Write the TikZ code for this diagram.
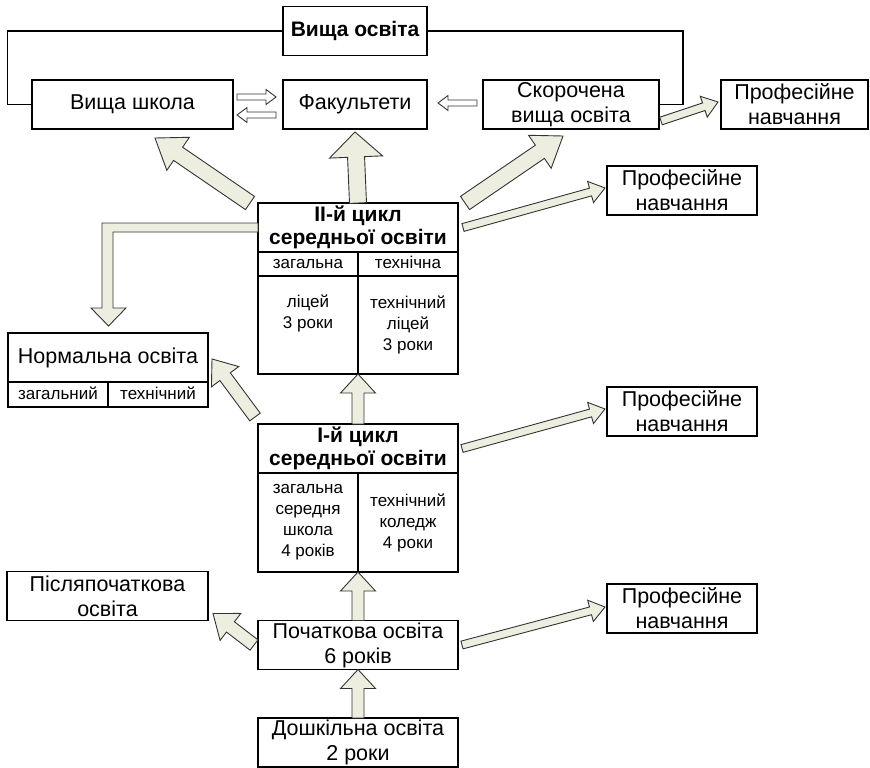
\documentclass[tikz,border=0pt]{standalone}
\usepackage{fontspec}
\setmainfont{Liberation Sans}
\usetikzlibrary{calc}
\definecolor{arrfill}{RGB}{238,238,224}

% block arrow: style, tail, tip, shaft half width, head half width, head length
\newcommand{\blkarr}[6]{%
  \coordinate (ba-t) at #2;
  \coordinate (ba-h) at #3;
  \coordinate (ba-b) at ($(ba-h)!#6!(ba-t)$);
  \draw[#1] ($(ba-t)!#4!90:(ba-h)$) -- ($(ba-b)!#4!90:(ba-h)$) -- ($(ba-b)!#5!90:(ba-h)$)
    -- (ba-h) -- ($(ba-b)!#5!-90:(ba-h)$) -- ($(ba-b)!#4!-90:(ba-h)$) -- ($(ba-t)!#4!-90:(ba-h)$) -- cycle;
}

\begin{document}
\begin{tikzpicture}[x=1pt, y=-1pt,
    box/.style={draw, line width=1.1pt, outer sep=0pt, inner sep=1pt, minimum height=49pt, align=center, font=\fontsize{21.5}{25}\selectfont},
    hdr/.style={box, font=\bfseries\fontsize{21}{23}\selectfont},
    cell/.style={box, font=\fontsize{17}{21}\selectfont},
    rowcell/.style={cell, minimum width=100pt, text height=12.5pt, text depth=3.5pt},
    arr/.style={draw=black!80, line width=0.9pt, fill=arrfill},
    openarr/.style={draw=black!80, line width=0.9pt, fill=white}]
        \useasboundingbox (0,0) rectangle (870,768);

        \node[hdr, minimum width=144pt] (vo) at (355,31) {Вища освіта};
        \node[box, minimum width=201pt] (vsh) at (132.5,104.5) {Вища школа};
        \node[box, minimum width=144pt] (fak) at (355,104.5) {Факультети};
        \node[box, minimum width=176pt] (skor) at (571,104.5) {Скорочена\\вища освіта};
        \node[box, minimum width=147pt] (prof1) at (794.5,104.5) {Професійне\\навчання};
        \node[box, minimum width=150pt] (prof2) at (682,190.5) {Професійне\\навчання};

        \node[hdr, minimum width=200pt] (II) at (358,227.5) {II-й цикл\\середньої освіти};
        \node[rowcell, minimum height=24pt, anchor=north west] (IIa) at (II.south west) {загальна};
        \node[rowcell, minimum height=24pt, anchor=north east] (IIb) at (II.south east) {технічна};
        \node[cell, minimum width=100pt, minimum height=98pt, anchor=north west] (IIc) at (IIa.south west) {ліцей\\3 роки\\\strut};
        \node[cell, minimum width=100pt, minimum height=98pt, anchor=north east] (IId) at (IIb.south east) {технічний\\ліцей\\3 роки};

        \node[box, minimum width=200pt] (norm) at (108,357.5) {Нормальна освіта};
        \node[rowcell, minimum height=25pt, anchor=north west] (norma) at (norm.south west) {загальний};
        \node[rowcell, minimum height=25pt, anchor=north east] (normb) at (norm.south east) {технічний};
        \node[box, minimum width=150pt] (prof3) at (682,411.5) {Професійне\\навчання};

        \node[hdr, minimum width=200pt] (I) at (358,448.5) {I-й цикл\\середньої освіти};
        \node[cell, minimum width=100pt, minimum height=99pt, anchor=north west] (Ia) at (I.south west) {загальна\\середня\\школа\\4 років};
        \node[cell, minimum width=100pt, minimum height=99pt, anchor=north east] (Ib) at (I.south east) {технічний\\коледж\\4 роки};

        \node[box, minimum width=201pt] (pisl) at (107.5,596) {Післяпочаткова\\освіта};
        \node[box, minimum width=200pt] (poch) at (358,645) {Початкова освіта\\6 років};
        \node[box, minimum width=150pt] (prof4) at (682,608.5) {Професійне\\навчання};
        \node[box, minimum width=200pt] (dosh) at (358,742.5) {Дошкільна освіта\\2 роки};

        % frame round the top row
        \draw[line width=1.1pt] (vo.west) -- ++(-275.5,0) |- (vsh.west);
        \draw[line width=1.1pt] (vo.east) -- ++(256,0) |- (skor.east);

        % open arrows
        \blkarr{openarr}{($(vsh.east)+(4,-7.5)$)}{($(fak.west)+(-7,-7.5)$)}{3pt}{7.5pt}{10pt}
        \blkarr{openarr}{($(fak.west)+(-7,10.5)$)}{($(vsh.east)+(4,10.5)$)}{3pt}{7.5pt}{10pt}
        \blkarr{openarr}{($(skor.west)+(-6,-1.5)$)}{($(fak.east)+(11,-1.5)$)}{3pt}{7.5pt}{10pt}

        % from II-й цикл
        \blkarr{arr}{(II.north)}{($(fak.south)+(0,3)$)}{8.5pt}{26.5pt}{25pt}
        \blkarr{arr}{($(II.north west)+(-8,0)$)}{($(vsh.south)+(22.5,9)$)}{8pt}{20pt}{28pt}
        \blkarr{arr}{($(II.north east)+(7,0)$)}{($(skor.south)+(-8,7)$)}{8pt}{20pt}{28pt}
        \blkarr{arr}{($(II.east)+(5,0)$)}{($(prof2.west)+(-2,-2.5)$)}{4pt}{11pt}{15pt}
        \blkarr{arr}{($(skor.south east)+(2,-8)$)}{($(prof1.west)+(-3,-2.5)$)}{4pt}{11pt}{15pt}
        \draw[arr] ($(II.west)+(0,-4.5)$) -- ++(-156,0) -- ++(0,85) -- ++(-11,0) -- ++(17.5,18)
            -- ++(17.5,-18) -- ++(-13,0) -- ++(0,-76) -- ++(145,0) -- cycle;

        % from I-й цикл
        \blkarr{arr}{(I.north)}{(IId.south west)}{6pt}{17.5pt}{19pt}
        \blkarr{arr}{($(I.north west)+(-3,-7)$)}{($(norm.east)+(4,1.5)$)}{6.5pt}{17pt}{22pt}
        \blkarr{arr}{($(I.east)+(4,0)$)}{($(prof3.west)+(-2,-2.5)$)}{4pt}{11pt}{15pt}

        % from Початкова and Дошкільна
        \blkarr{arr}{(poch.north)}{(Ia.south east)}{6pt}{17.5pt}{19pt}
        \blkarr{arr}{($(poch.west)+(-4,0)$)}{($(pisl.south east)+(5,-7)$)}{6.5pt}{17pt}{22pt}
        \blkarr{arr}{($(poch.east)+(4,0)$)}{($(prof4.west)+(-2,-1.5)$)}{4pt}{11pt}{15pt}
        \blkarr{arr}{(dosh.north)}{(poch.south)}{6pt}{17.5pt}{19pt}
    \end{tikzpicture}
\end{document}
